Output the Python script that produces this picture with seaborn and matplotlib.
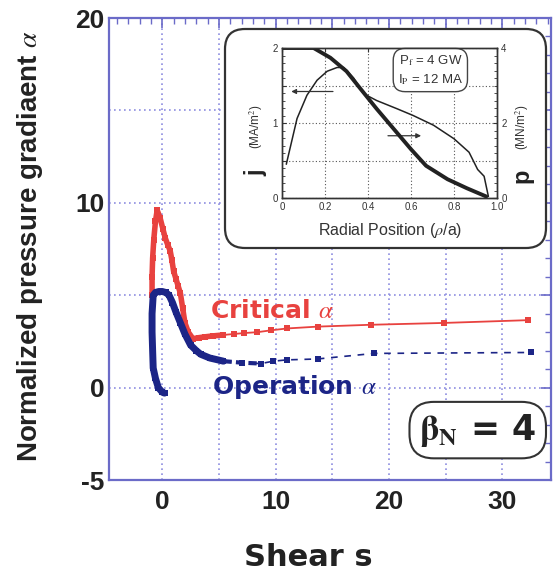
import matplotlib
matplotlib.use("Agg")
import matplotlib.pyplot as plt
import seaborn as sns
import numpy as np
from matplotlib.patches import FancyBboxPatch
from matplotlib.ticker import MultipleLocator, FuncFormatter

# ---------------- data ----------------
crit_s = [-0.9, -0.9, -0.85, -0.75, -0.6, -0.45, -0.2, 0.05, 0.26, 0.5, 0.7, 0.85, 1.0, 1.2,
          1.4, 1.6, 1.8, 2.0, 2.3, 2.7, 3.2, 3.8, 4.5, 5.4, 6.3, 7.2, 8.4, 9.6, 11.0, 13.7,
          18.4, 24.9, 32.3]
crit_a = [5.0, 6.0, 7.0, 8.0, 9.0, 9.6, 9.2, 8.6, 8.1, 7.7, 7.4, 6.9, 6.3, 5.9,
          5.5, 5.1, 4.3, 3.5, 3.0, 2.65, 2.7, 2.75, 2.8, 2.85, 2.9, 2.95, 3.0, 3.1, 3.2, 3.3,
          3.4, 3.5, 3.65]

op_s = [0.2, 0.0, -0.35, -0.6, -0.8, -0.85, -0.9, -0.9, -0.8, -0.6, -0.3, 0.0, 0.3, 0.6,
        0.9, 1.2, 1.6, 2.0, 2.5, 3.0, 3.4, 4.2, 5.4, 7.0, 8.7, 9.8, 11.0, 13.7, 18.7, 32.5]
op_a = [-0.3, -0.25, 0.0, 0.5, 1.06, 2.0, 3.0, 4.0, 5.0, 5.15, 5.2, 5.2, 5.15, 5.0,
        4.6, 4.1, 3.5, 2.9, 2.3, 2.0, 1.8, 1.6, 1.43, 1.35, 1.3, 1.43, 1.5, 1.55, 1.85, 1.9]

# inset: radial profiles
rho_p = [0.0, 0.147, 0.225, 0.30, 0.364, 0.44, 0.52, 0.60, 0.67, 0.77, 0.86, 0.95]
p_val = [4.0, 4.0, 3.74, 3.38, 2.92, 2.38, 1.84, 1.30, 0.86, 0.50, 0.26, 0.04]
rho_j = [0.02, 0.07, 0.116, 0.163, 0.21, 0.256, 0.287, 0.333, 0.38, 0.44, 0.535, 0.61,
         0.705, 0.80, 0.87, 0.91, 0.94, 0.96]
j_val = [0.45, 1.06, 1.37, 1.57, 1.69, 1.74, 1.74, 1.60, 1.39, 1.30, 1.19, 1.10,
         0.97, 0.79, 0.61, 0.38, 0.29, 0.02]

x_labels = [0, 10, 20, 30]
y_labels = [-5, 0, 10, 20]

# ---------------- style ----------------
sns.set_style("white")
plt.rcParams['font.family'] = ['Liberation Sans', 'DejaVu Sans']
plt.rcParams['mathtext.fontset'] = 'stix'
plt.rcParams['axes.unicode_minus'] = False

RED = '#e8423f'
BLUE = '#1c2587'
FRAME = '#6b6bc8'
GRID = '#8d8de0'
WIDE = ['DejaVu Sans']

fig = plt.figure(figsize=(5.6, 5.74), dpi=100)
ax = fig.add_axes([109/560, 1-480/574, (551-109)/560, (480-18)/574])

# critical alpha
sns.lineplot(x=crit_s, y=crit_a, sort=False, estimator=None, ax=ax, color=RED, lw=1.3)
core = [i for i, s in enumerate(crit_s) if s < 5.5]
sns.lineplot(x=[crit_s[i] for i in core], y=[crit_a[i] for i in core], sort=False,
             estimator=None, ax=ax, color=RED, lw=4)
sns.scatterplot(x=crit_s, y=crit_a, ax=ax, color=RED, s=14, marker='s', linewidth=0)

# operation alpha
sns.lineplot(x=op_s, y=op_a, sort=False, estimator=None, ax=ax, color=BLUE, lw=1.2,
             linestyle=(0, (4, 4)))
core = [i for i, s in enumerate(op_s) if s < 5.5]
sns.lineplot(x=[op_s[i] for i in core], y=[op_a[i] for i in core], sort=False,
             estimator=None, ax=ax, color=BLUE, lw=5)
mid = [i for i, s in enumerate(op_s) if 5.0 < s < 9.0]
sns.lineplot(x=[op_s[i] for i in mid], y=[op_a[i] for i in mid], sort=False,
             estimator=None, ax=ax, color=BLUE, lw=3, linestyle=(0, (2, 1)))
sns.scatterplot(x=op_s, y=op_a, ax=ax, color=BLUE, s=22, marker='s', linewidth=0)

ax.set_xlim(-4.7, 34.3)
ax.set_ylim(-5, 20)
ax.xaxis.set_major_locator(MultipleLocator(5))
ax.yaxis.set_major_locator(MultipleLocator(5))
ax.xaxis.set_minor_locator(MultipleLocator(1))
ax.yaxis.set_minor_locator(MultipleLocator(1))
ax.xaxis.set_major_formatter(FuncFormatter(lambda v, p: str(int(round(v))) if int(round(v)) in x_labels else ''))
ax.yaxis.set_major_formatter(FuncFormatter(lambda v, p: str(int(round(v))) if int(round(v)) in y_labels else ''))
ax.tick_params(which='both', direction='in', top=True, right=True, color=FRAME,
               labelsize=19)
ax.tick_params(axis='x', pad=7)
ax.tick_params(axis='y', pad=3)
ax.tick_params(which='major', length=7, width=1.2)
ax.tick_params(which='minor', length=4, width=1.0)
for lab in ax.get_xticklabels() + ax.get_yticklabels():
    lab.set_fontweight('bold')
    lab.set_color('#222222')
for sp in ax.spines.values():
    sp.set_color(FRAME)
    sp.set_linewidth(1.6)
ax.grid(True, which='major', color=GRID, linestyle=(0, (1, 2)), linewidth=1.2)
ax.set_xlabel('')
ax.set_ylabel('')

fig.text(308/560, 1-557/574, 'Shear s', fontsize=22, fontweight='bold', ha='center',
         va='center', color='#222222', family=WIDE)
fig.text(30/560, 1-246/574, r'Normalized pressure gradiaent $\alpha$', fontsize=20,
         fontweight='bold', ha='center', va='center', rotation=90, color='#222222')

ax.text(4.2, 4.15, r'Critical $\alpha$', color=RED, fontsize=18, fontweight='bold',
        ha='left', va='center', family=WIDE)
ax.text(4.4, 0.05, r'Operation $\alpha$', color=BLUE, fontsize=18, fontweight='bold',
        ha='left', va='center', family=WIDE)
ax.text(33.0, -2.3, r'$\mathbf{\beta_N}$ = 4', fontsize=25, fontweight='bold', ha='right',
        va='center', color='#222222', family=WIDE,
        bbox=dict(boxstyle='round,pad=0.28,rounding_size=0.7', fc='white', ec='#333333', lw=1.5))

# ---------------- inset ----------------
box = FancyBboxPatch((2.25, (574-248)/100), 3.21, 2.19,
                     boxstyle='round,pad=0,rounding_size=0.2',
                     transform=fig.dpi_scale_trans, fc='white', ec='#333333', lw=1.6, zorder=1)
fig.patches.append(box)

ins = fig.add_axes([282/560, 1-198/574, (497-282)/560, (198-48)/574], zorder=2)
ins.set_facecolor('none')
sns.lineplot(x=rho_j, y=j_val, sort=False, estimator=None, ax=ins, color='#222222', lw=1.1)
ins.set_xlim(0, 1.0)
ins.set_ylim(0, 2)
ins2 = ins.twinx()
sns.lineplot(x=rho_p, y=p_val, sort=False, estimator=None, ax=ins2, color='#222222', lw=2.8)
ins2.set_ylim(0, 4)
ins2.set_xlim(0, 1.0)

ins.set_xticks([0, 0.2, 0.4, 0.6, 0.8, 1.0])
ins.set_xticklabels(['0', '0.2', '0.4', '0.6', '0.8', '1.0'])
ins.set_yticks([0, 0.5, 1, 1.5, 2])
ins.set_yticklabels(['0', '', '1', '', '2'])
ins2.set_yticks([0, 2, 4])
ins2.set_yticklabels(['0', '2', '4'])
ins.xaxis.set_minor_locator(MultipleLocator(0.05))
ins.yaxis.set_minor_locator(MultipleLocator(0.1))
ins2.yaxis.set_minor_locator(MultipleLocator(0.2))
for a in (ins, ins2):
    a.tick_params(which='both', direction='in', labelsize=7, colors='#333333', pad=3)
    a.tick_params(which='major', length=3)
    a.tick_params(which='minor', length=2)
    a.set_xlabel('')
    a.set_ylabel('')
    for sp in a.spines.values():
        sp.set_color('#333333')
        sp.set_linewidth(1.0)
ins.tick_params(top=True)
ins.grid(True, which='major', color='#555555', linestyle=(0, (1, 2)), linewidth=0.8)

ins.annotate('', xy=(0.03, 1.42), xytext=(0.25, 1.42),
             arrowprops=dict(arrowstyle='-|>', color='#333333', lw=0.9, mutation_scale=7))
ins.annotate('', xy=(0.66, 0.83), xytext=(0.48, 0.83),
             arrowprops=dict(arrowstyle='-|>', color='#333333', lw=0.9, mutation_scale=7))

ins.text(0.69, 0.853, r'P$_{\rm f}$ = 4 GW' + '\n' + r'I$_{\rm P}$ = 12 MA', transform=ins.transAxes,
         fontsize=9.5, ha='center', va='center', color='#333333', linespacing=1.4,
         bbox=dict(boxstyle='round,pad=0.35,rounding_size=0.9', fc='white', ec='#444444', lw=1.0))

fig.text(390/560, 1-231/574, r'Radial Position ($\rho$/a)', fontsize=11.5, ha='center',
         va='center', color='#333333')
fig.text(256/560, 1-173/574, 'j', fontsize=17, fontweight='bold', ha='center', va='center',
         rotation=90, color='#222222')
fig.text(256/560, 1-127/574, r'(MA/m$^2$)', fontsize=8.5, ha='center', va='center',
         rotation=90, color='#333333')
fig.text(522/560, 1-176/574, 'p', fontsize=17, fontweight='bold', ha='center', va='center',
         rotation=90, color='#222222')
fig.text(522/560, 1-127/574, r'(MN/m$^2$)', fontsize=8.5, ha='center', va='center',
         rotation=90, color='#333333')

fig.savefig('out.png', dpi=100)
